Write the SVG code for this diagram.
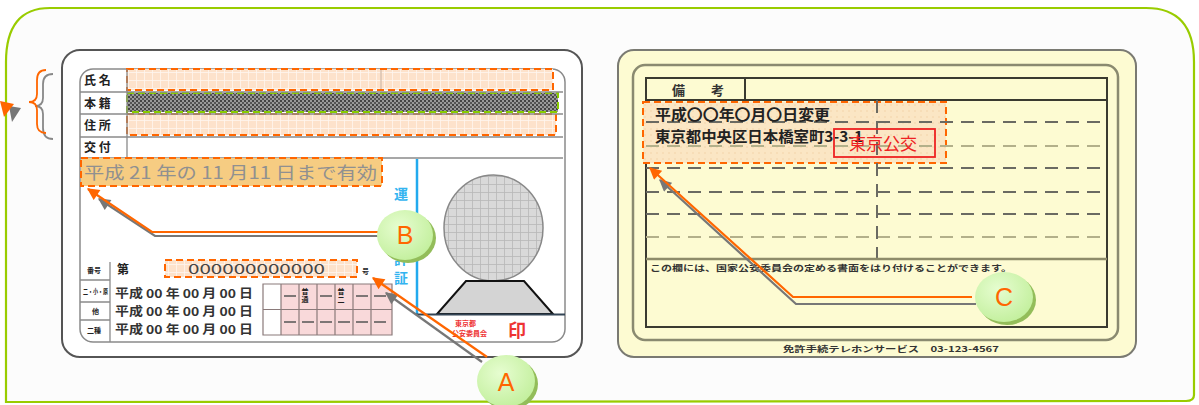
<svg xmlns="http://www.w3.org/2000/svg" width="1199" height="405" viewBox="0 0 1199 405">
  <defs>
    <style>
      .jp { font-family: "Noto Sans CJK JP", "Noto Sans", sans-serif; }
      .lbl { font-family: "Noto Sans CJK JP", sans-serif; font-size: 12px; font-weight: bold; fill: #222; }
      .tiny { font-family: "Noto Sans CJK JP", sans-serif; font-size: 7px; font-weight: bold; fill: #222; }
      .date { font-family: "Noto Sans CJK JP", sans-serif; font-size: 12px; font-weight: bold; fill: #333; }
      .hl { stroke: #ff6600; stroke-width: 2; stroke-dasharray: 7 4; }
      .rule { stroke: #8a8a8a; stroke-width: 1.3; fill: none; }
      .dashDark { stroke: #6a6a62; stroke-width: 2; stroke-dasharray: 13 8; fill: none; }
      .dashOlive { stroke: #b3b08a; stroke-width: 2; stroke-dasharray: 13 8; fill: none; }
      .callText { font-family: "Liberation Sans", Arial, sans-serif; font-size: 25px; fill: #ff6600; text-anchor: middle; }
      .lineO { stroke: #ff6600; stroke-width: 2.2; fill: none; }
      .lineG { stroke: #777; stroke-width: 2.2; fill: none; }
    </style>
    <pattern id="pOrange" width="8" height="8" patternUnits="userSpaceOnUse">
      <rect width="8" height="8" fill="#fde2cb"/>
      <path d="M0,0.5 H8 M0.5,0 V8" stroke="#ffffff" stroke-width="0.8" opacity="0.7"/>
    </pattern>
    <pattern id="pDark" width="4" height="4" patternUnits="userSpaceOnUse">
      <rect width="4" height="4" fill="#9a9a9a"/>
      <rect width="2" height="2" fill="#444"/>
      <rect x="2" y="2" width="2" height="2" fill="#555"/>
    </pattern>
    <pattern id="pGray" width="8" height="8" patternUnits="userSpaceOnUse">
      <rect width="8" height="8" fill="#d9d9d9"/>
      <path d="M0,0.5 H8 M0.5,0 V8" stroke="#b8b8b8" stroke-width="0.8"/>
    </pattern>
    <pattern id="pYellow" width="6" height="6" patternUnits="userSpaceOnUse">
      <rect width="6" height="6" fill="#fbe6c4"/>
      <circle cx="3" cy="3" r="0.8" fill="#f3d2a8"/>
    </pattern>
    <radialGradient id="gBall" cx="0.4" cy="0.35" r="0.7">
      <stop offset="0" stop-color="#e6fdd0"/>
      <stop offset="1" stop-color="#c2ef9c"/>
    </radialGradient>
    <marker id="arrO" viewBox="0 0 10 10" refX="9" refY="5" markerWidth="6" markerHeight="5.5" orient="auto" markerUnits="strokeWidth">
      <path d="M0,0 L10,5 L0,10 z" fill="#ff6600"/>
    </marker>
    <marker id="arrG" viewBox="0 0 10 10" refX="9" refY="5" markerWidth="6" markerHeight="5.5" orient="auto" markerUnits="strokeWidth">
      <path d="M0,0 L10,5 L0,10 z" fill="#777"/>
    </marker>
  </defs>

  <rect width="1199" height="405" fill="#ffffff"/>

  <!-- outer green frame -->
  <path d="M6,402 V62 Q6,8 50,8 H1146 Q1194,8 1194,62 V395 Q1194,401 1186,401 Z" fill="#fcfcfc" stroke="#99cc00" stroke-width="2.2"/>

  <!-- ===== front of licence ===== -->
  <g id="card-front">
    <rect x="62" y="50" width="520" height="307" rx="18" fill="#ffffff" stroke="#555" stroke-width="2"/>
    <rect x="80" y="69" width="485" height="273" rx="13" fill="#ffffff" stroke="#8a8a8a" stroke-width="1.5"/>

    <!-- name / domicile / address / issue rows -->
    <g id="field-name">
      <rect x="127" y="69" width="426" height="21" class="hl" fill="url(#pOrange)"/>
      <line x1="381" y1="70" x2="381" y2="89" stroke="#d8c2b0" stroke-width="1.5"/>
    </g>
    <g id="field-domicile">
      <rect x="127" y="93" width="431" height="19" fill="url(#pDark)" stroke="#88cc00" stroke-width="2" stroke-dasharray="7 4"/>
    </g>
    <g id="field-address">
      <rect x="127" y="114" width="429" height="21" class="hl" fill="url(#pOrange)"/>
    </g>
    <path class="rule" d="M127,69 V158 M80,92 H563 M80,114 H563 M80,137 H563 M80,158 H563"/>
    <text class="lbl" x="84" y="85">氏 名</text>
    <text class="lbl" x="84" y="108">本 籍</text>
    <text class="lbl" x="84" y="130">住 所</text>
    <text class="lbl" x="84" y="152">交 付</text>

    <!-- expiry strip -->
    <g id="field-expiry">
      <rect x="81" y="158" width="301" height="28" class="hl" fill="#f6cc82"/>
      <text class="jp" x="84" y="179" font-size="17" fill="#909090" textLength="293" lengthAdjust="spacingAndGlyphs">平成 21 年の 11 月11 日まで有効</text>
    </g>

    <!-- vertical title -->
    <line x1="417" y1="159" x2="417" y2="315" stroke="#22aaee" stroke-width="2.5"/>
    <g class="jp" font-size="14" font-weight="bold" fill="#33b4f0" text-anchor="middle">
      <text x="401" y="199">運</text>
      <text x="401" y="264">許</text>
      <text x="401" y="283">証</text>
    </g>

    <!-- photo -->
    <g id="photo">
      <ellipse cx="493.5" cy="228" rx="49.5" ry="53" fill="url(#pGray)" stroke="#888" stroke-width="1.5"/>
      <path d="M466,281 H524 L553,314 H437 Z" fill="#d4d4d4" stroke="#111" stroke-width="2"/>
      <line x1="416" y1="314.5" x2="565" y2="314.5" stroke="#334455" stroke-width="2"/>
      <text class="jp" x="455" y="326" font-size="7" font-weight="bold" fill="#ee3333">東京都</text>
      <text class="jp" x="452" y="336" font-size="7" font-weight="bold" fill="#ee3333">公安委員会</text>
      <text class="jp" x="508" y="337" font-size="18" font-weight="bold" fill="#ee3333">印</text>
    </g>

    <!-- number and licence classes -->
    <g id="field-number">
      <rect x="165" y="260" width="192" height="17" class="hl" fill="url(#pOrange)"/>
      <text class="jp" x="188" y="274" font-size="13" fill="#444" textLength="137" lengthAdjust="spacingAndGlyphs">000000000000</text>
      <text class="tiny" x="362" y="274" font-size="8">号</text>
    </g>
    <path class="rule" d="M110,262 V342 M80,280 H110 M80,302 H110 M80,320 H110"/>
    <text class="tiny" x="87" y="273">番号</text>
    <text class="tiny" x="83" y="294" font-size="5.5" textLength="25" lengthAdjust="spacingAndGlyphs">二・小・原</text>
    <text class="tiny" x="92" y="314">他</text>
    <text class="tiny" x="87" y="333">二種</text>
    <text class="lbl" x="117" y="274" font-size="11">第</text>
    <text class="date" x="115" y="298" textLength="138" lengthAdjust="spacingAndGlyphs">平成 00 年 00 月 00 日</text>
    <text class="date" x="115" y="316" textLength="138" lengthAdjust="spacingAndGlyphs">平成 00 年 00 月 00 日</text>
    <text class="date" x="115" y="334" textLength="138" lengthAdjust="spacingAndGlyphs">平成 00 年 00 月 00 日</text>

    <g id="class-grid">
      <rect x="263" y="284" width="18" height="51" fill="#ffffff"/>
      <rect x="281" y="284" width="111" height="51" fill="#f9d9da"/>
      <path d="M263,284 H392 V335 H263 Z M263,309.5 H392 M281,284 V335 M299,284 V335 M317,284 V335 M335,284 V335 M353,284 V335 M371,284 V335" fill="none" stroke="#8a7a7a" stroke-width="1.2"/>
      <g stroke="#555" stroke-width="1.5">
        <path d="M284,296 H296 M320,296 H332 M356,296 H368 M374,296 H386"/>
        <path d="M284,322 H296 M302,322 H314 M320,322 H332 M338,322 H350 M356,322 H368 M374,322 H386"/>
      </g>
      <text class="tiny" x="301.5" y="294" font-size="6.5">普</text>
      <text class="tiny" x="301.5" y="302" font-size="6.5">通</text>
      <text class="tiny" x="337.5" y="294" font-size="6.5">普</text>
      <text class="tiny" x="337.5" y="302" font-size="6.5">二</text>
    </g>
  </g>

  <!-- ===== back of licence ===== -->
  <g id="card-back">
    <rect x="618" y="50" width="518" height="307" rx="16" fill="#fdfbd2" stroke="#7a7a72" stroke-width="2"/>
    <rect x="633" y="65" width="485" height="275" rx="12" fill="none" stroke="#8a8a70" stroke-width="2.5"/>
    <rect x="646" y="78" width="461" height="249" fill="none" stroke="#3a3a30" stroke-width="2"/>
    <path d="M646,100 H1107 M745,78 V100" stroke="#3a3a30" stroke-width="2" fill="none"/>
    <text class="jp" x="672" y="95" font-size="13" font-weight="bold" fill="#333">備　　考</text>

    <g id="field-remarks">
      <rect x="643" y="102" width="303" height="61" class="hl" fill="url(#pYellow)"/>
    </g>

    <path class="dashDark" d="M646,122 H1107 M646,168 H1107 M646,192 H1107 M646,214 H1107"/>
    <path class="dashOlive" d="M646,146 H1107 M646,237 H1107"/>
    <line x1="877" y1="100" x2="877" y2="259" class="dashDark"/>
    <line x1="646" y1="259" x2="1107" y2="259" stroke="#8e8c6a" stroke-width="2.5"/>

    <text class="jp" x="655" y="120" font-size="15" font-weight="bold" fill="#222" textLength="175" lengthAdjust="spacingAndGlyphs">平成〇〇年〇月〇日変更</text>
    <text class="jp" x="655" y="142" font-size="15" font-weight="bold" fill="#222" textLength="208" lengthAdjust="spacingAndGlyphs">東京都中央区日本橋室町3-3-1</text>
    <rect x="834" y="129" width="101" height="28" fill="none" stroke="#ee2222" stroke-width="1.8"/>
    <text class="jp" x="849" y="150" font-size="17" fill="#ee2222">東京公交</text>

    <text class="jp" x="650" y="271" font-size="8" font-weight="bold" fill="#333" textLength="362" lengthAdjust="spacingAndGlyphs">この欄には、国家公安委員会の定める書面をはり付けることができます。</text>
    <text class="jp" x="783" y="352" font-size="8" font-weight="bold" fill="#333" textLength="216" lengthAdjust="spacingAndGlyphs">免許手続テレホンサービス　03-123-4567</text>
  </g>

  <!-- ===== callouts ===== -->
  <g id="connectors">
    <!-- brace grouping the first three rows -->
    <path d="M53,74 Q43,74 43,84 V98 Q43,106 35,106 Q43,106 43,114 V128 Q43,139 53,139" fill="none" stroke="#888" stroke-width="1.8"/>
    <path d="M46,70 Q37,70 37,80 V94 Q37,102 29,102 Q37,102 37,110 V124 Q37,133 46,133" fill="none" stroke="#ff6600" stroke-width="1.8"/>
    <polygon points="9,106 21,108 12,122" fill="#777"/>
    <polygon points="0,101 14,104 4,117" fill="#ff6600"/>

    <!-- B -->
    <path class="lineG" d="M378,236 H155 L99,199" marker-end="url(#arrG)"/>
    <path class="lineO" d="M378,232 H152 L88,189" marker-end="url(#arrO)"/>
    <!-- A -->
    <path class="lineG" d="M482,362 L386,293" marker-end="url(#arrG)"/>
    <path class="lineO" d="M487,357 L373,278" marker-end="url(#arrO)"/>
    <!-- C -->
    <path class="lineG" d="M976,304 H796 L660,180" marker-end="url(#arrG)"/>
    <path class="lineO" d="M972,297 H793 L650,168" marker-end="url(#arrO)"/>
  </g>

  <g id="callout-B">
    <ellipse cx="408" cy="238" rx="28" ry="25" fill="#93bd5a"/>
    <ellipse cx="405" cy="235" rx="28" ry="25" fill="url(#gBall)"/>
    <text class="callText" x="405" y="244">B</text>
  </g>
  <g id="callout-A">
    <ellipse cx="509" cy="384" rx="29" ry="26" fill="#93bd5a"/>
    <ellipse cx="506" cy="381" rx="29" ry="26" fill="url(#gBall)"/>
    <text class="callText" x="506" y="391">A</text>
  </g>
  <g id="callout-C">
    <ellipse cx="1007" cy="300" rx="29" ry="25" fill="#93bd5a"/>
    <ellipse cx="1004" cy="297" rx="29" ry="25" fill="url(#gBall)"/>
    <text class="callText" x="1004" y="306">C</text>
  </g>
</svg>
